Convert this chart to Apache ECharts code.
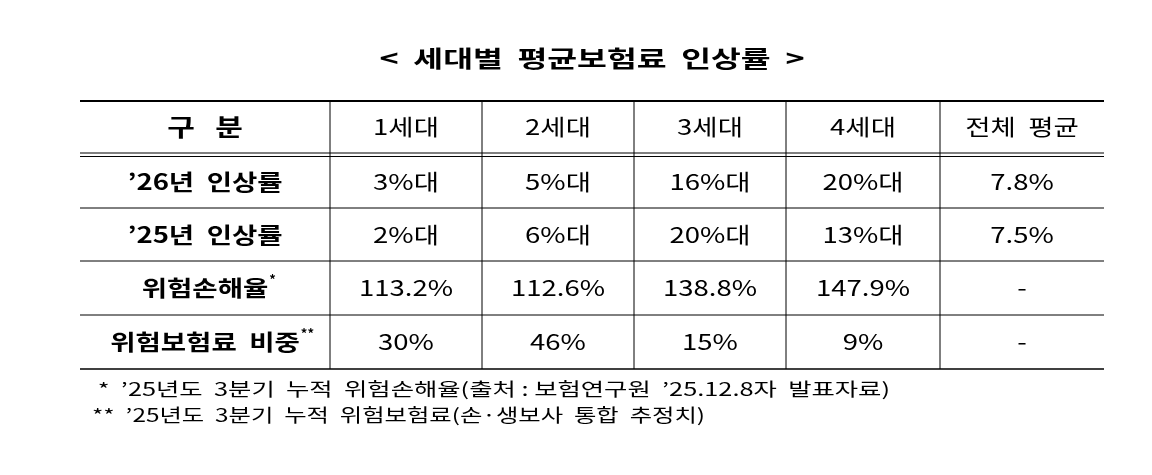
<!DOCTYPE html>
<html><head><meta charset="utf-8">
<script src="https://cdn.jsdelivr.net/npm/echarts@6/dist/echarts.min.js"></script>
<style>html,body{margin:0;background:#fff}#c{width:1152px;height:475px}</style>
</head><body><div id="c"></div>
<script>
var title = '<  세대별  평균보험료  인상률  >';
var headers = ['구   분', '1세대', '2세대', '3세대', '4세대', '전체  평균'];
var rowLabels = ['’26년  인상률', '’25년  인상률', '위험손해율', '위험보험료  비중'];
var rowMarks = ['', '', '*', '**'];
var rowValues = [
    ['3%대', '5%대', '16%대', '20%대', '7.8%'],
    ['2%대', '6%대', '20%대', '13%대', '7.5%'],
    ['113.2%', '112.6%', '138.8%', '147.9%', '-'],
    ['30%', '46%', '15%', '9%', '-']
];
var notes = [
    ' *  ’25년도  3분기  누적  위험손해율(출처 : 보험연구원  ’25.12.8자  발표자료)',
    '**  ’25년도  3분기  누적  위험보험료(손·생보사  통합  추정치)'
];

var colX = [80, 330, 482, 634, 786, 940, 1104];
var rowY = [101, 155, 208, 261, 315, 369];
var font = '"Noto Sans CJK KR", sans-serif';
var ctx = document.createElement('canvas').getContext('2d');
function measure(t, f) { ctx.font = f; return ctx.measureText(t).width; }
var els = [];
function line(x1, y1, x2, y2, w) {
    els.push({type: 'line', shape: {x1: x1, y1: y1, x2: x2, y2: y2}, style: {stroke: '#000', lineWidth: w || 1}});
}
function text(t, x, y, size, weight, align, sx) {
    els.push({type: 'text', x: x, y: y, scaleX: sx || 1.25, style: {text: t, font: (weight || 'normal') + ' ' + size + 'px ' + font,
        fill: '#000', align: align || 'center', verticalAlign: 'middle'}});
}
function fitText(t, x, y, size, weight, align, width) {
    var f = (weight || 'normal') + ' ' + size + 'px ' + font;
    text(t, x, y, size, weight, align, width / measure(t, f));
}

fitText(title, 592, 58, 23, 'bold', 'center', 425);
line(colX[0], 101, colX[6], 101, 2);
line(colX[0], 153, colX[6], 153, 1);
line(colX[0], 156.5, colX[6], 156.5, 1);
for (var r = 2; r < rowY.length; r++) line(colX[0], rowY[r], colX[6], rowY[r], r === rowY.length - 1 ? 1.5 : 1);
for (var c = 1; c < colX.length - 1; c++) line(colX[c], 101, colX[c], rowY[rowY.length - 1]);

headers.forEach(function (h, i) {
    text(h, (colX[i] + colX[i + 1]) / 2, 127, i === 0 ? 24 : 22, i === 0 ? 'bold' : 'normal');
});
rowLabels.forEach(function (lab, r) {
    var cy = ((r === 0 ? 156 : rowY[r + 1]) + rowY[r + 2]) / 2;
    var cx = (colX[0] + colX[1]) / 2;
    text(lab, cx, cy, 22, 'bold');
    if (rowMarks[r]) {
        var w = measure(lab, 'bold 22px ' + font) * 1.25;
        els.push({type: 'text', x: cx + w / 2 + 1, y: cy - 9,
            style: {text: rowMarks[r], font: 'bold 13px ' + font, fill: '#000', align: 'left', verticalAlign: 'middle'}});
    }
    rowValues[r].forEach(function (v, j) {
        text(v, (colX[j + 1] + colX[j + 2]) / 2, cy, 22, 'normal');
    });
});
var noteW = [798, 613];
notes.forEach(function (n, i) {
    fitText(n, 92, 389 + i * 26, 18, 'normal', 'left', noteW[i]);
});

var chart = echarts.init(document.getElementById('c'));
chart.setOption({backgroundColor: '#fff', graphic: {elements: els}});
</script></body></html>
